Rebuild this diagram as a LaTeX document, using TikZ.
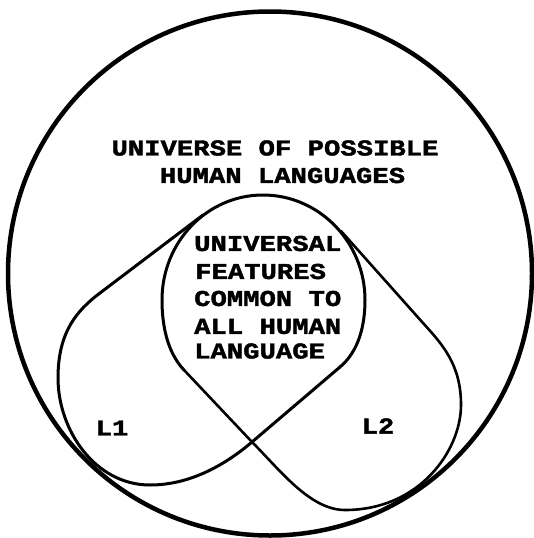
\documentclass[tikz,border=0pt]{standalone}
\usepackage{fontspec}
\newfontfamily\tw[FakeStretch=1.2,FakeBold=1.8]{Liberation Mono}
\begin{document}
\begin{tikzpicture}[x=1pt,y=-1pt,line join=round,line cap=round,
  outerline/.style={line width=4.5pt},
  lobe/.style={line width=3pt},
  lobethin/.style={line width=2.6pt},
  lbl/.style={font=\tw\bfseries\fontsize{22.7}{27}\selectfont,inner sep=0pt}]
\useasboundingbox (0,0) rectangle (533,538);
% key points (image pixel coordinates)
\coordinate (IL) at (184,370);
\coordinate (IR) at (340,367);
\coordinate (Lx) at (162,300);
\coordinate (Top) at (263,195);
\coordinate (Rx) at (365,300);
\coordinate (T1) at (203,215);
\coordinate (T2) at (341,231);
\coordinate (P1) at (100,293);
\coordinate (P2) at (58,378);
\coordinate (B1) at (150,485);
\coordinate (C) at (252,442);
\coordinate (Q1) at (423,323);
\coordinate (Q2) at (461,405);
\coordinate (B2) at (345,510);
% outer circle
\draw[outerline] (270,273.5) circle[radius=262pt];
% inner region (upper arc)
\draw[lobe] (IL) .. controls (167,352) and (162,325) .. (Lx)
  .. controls (162,242) and (207,195) .. (Top)
  .. controls (319,195) and (365,242) .. (Rx)
  .. controls (365,325) and (359,351) .. (IR);
% L1 lobe
\draw[lobe] (T1) -- (P1) .. controls (76,311) and (58,333) .. (P2)
  .. controls (58,430) and (95,485) .. (B1)
  .. controls (190,485) and (225,465) .. (C) -- (IR);
% L2 lobe
\draw[lobethin] (T2) -- (Q1) .. controls (443,345) and (461,365) .. (Q2)
  .. controls (461,450) and (420,510) .. (B2)
  .. controls (310,510) and (280,470) .. (C) -- (IL);
% texts
\node[lbl] (univ1) at (275,148) {UNIVERSE OF POSSIBLE};
\node[lbl] (univ2) at (282.5,175.5) {HUMAN LANGUAGES};
\node[lbl,anchor=west] (f1) at (194,243.5) {UNIVERSAL};
\node[lbl,anchor=west] (f2) at (195,271.5) {FEATURES};
\node[lbl,anchor=west] (f3) at (194,298.5) {COMMON TO};
\node[lbl,anchor=west] (f4) at (194,326.5) {ALL HUMAN};
\node[lbl,anchor=west] (f5) at (194,351) {LANGUAGE};
\node[lbl] (l1) at (112,428) {L1};
\node[lbl] (l2) at (378,426) {L2};
\end{tikzpicture}
\end{document}
